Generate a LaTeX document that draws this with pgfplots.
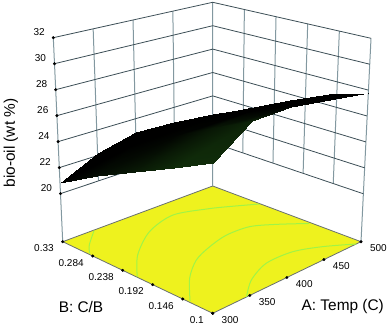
\documentclass[border=0pt]{standalone}
\usepackage{pgfplots}
\pgfplotsset{compat=1.18}
\usepackage{fontspec}
\setmainfont{Liberation Sans}
\definecolor{floorcol}{RGB}{238,242,30}
\definecolor{contcol}{RGB}{160,244,70}
\definecolor{vgrid}{RGB}{130,152,160}
\definecolor{hgrid}{RGB}{60,78,86}
\definecolor{edgecol}{RGB}{105,112,112}
% values live in the tables as (Temp, C/B, bio-oil), px/py place them on the page
\newcommand\PX{px(uu(\thisrow{A}),vv(\thisrow{B}),ww(\thisrow{Z}))}
\newcommand\PY{py(uu(\thisrow{A}),vv(\thisrow{B}),ww(\thisrow{Z}))}
\begin{document}
\begin{tikzpicture}[x=1pt,y=1pt]
\path[use as bounding box] (0,0) rectangle (387,326);
\begin{axis}[
  at={(0,0)}, anchor=south west,
  scale only axis, width=387pt, height=326pt,
  xmin=0, xmax=387, ymin=-326, ymax=0, zmin=-1, zmax=1,
  view={0}{90},
  hide axis, clip=false,
  declare function={
    uu(\a)=(\a-300)/200;
    vv(\b)=(\b-0.1)/0.23;
    ww(\z)=(\z-16.3)/15.7;
    px(\u,\v,\w)=212.7+(148.3+10*\w)*\u+(-150-9.4*\w)*\v+(1.7-0.6*\w)*\u*\v;
    py(\u,\v,\w)=-(313.3-227.3*\w+(-71.6+23.9*\w)*\u+(-71.6+23.3*\w)*\v+(15.9-3.6*\w)*\u*\v);
  },
  colormap={surfmap}{rgb255=(0,0,0); rgb255=(16,44,10)},
  point meta min=0, point meta max=1,
]
% floor
\addplot3[fill=floorcol, draw=edgecol, line width=0.8pt] table[x expr=\PX, y expr=\PY, z expr=0] {
A B Z
300 0.1 16.3
500 0.1 16.3
500 0.33 16.3
300 0.33 16.3
300 0.1 16.3
};
% contours on the floor
\addplot3[contcol, line width=1pt, smooth] table[x expr=\PX, y expr=\PY, z expr=0] {
A B Z
341 0.329 16.3
314.6 0.306 16.3
302 0.291 16.3
};
\addplot3[contcol, line width=1pt, smooth] table[x expr=\PX, y expr=\PY, z expr=0] {
A B Z
300.8 0.2166 16.3
334 0.254 16.3
379 0.2877 16.3
422.6 0.302 16.3
457 0.2877 16.3
475.6 0.2753 16.3
499.4 0.2564 16.3
};
\addplot3[contcol, line width=1pt, smooth] table[x expr=\PX, y expr=\PY, z expr=0] {
A B Z
302 0.137 16.3
335.4 0.1757 16.3
367 0.2017 16.3
396.4 0.215 16.3
426 0.2233 16.3
455 0.2208 16.3
476 0.2035 16.3
498 0.178 16.3
};
\addplot3[contcol, line width=1pt, smooth] table[x expr=\PX, y expr=\PY, z expr=0] {
A B Z
345.6 0.1 16.3
373.5 0.1244 16.3
408.2 0.1412 16.3
442.6 0.14 16.3
469 0.1242 16.3
493.6 0.1 16.3
};
% wall verticals
\addplot3[vgrid, line width=1pt] table[x expr=\PX, y expr=\PY, z expr=0] {
A B Z
300 0.33 16.3
300 0.33 32

350 0.33 20
350 0.33 32

400 0.33 20
400 0.33 32

450 0.33 20
450 0.33 32

500 0.33 16.3
500 0.33 32

500 0.284 20
500 0.284 32

500 0.238 20
500 0.238 32

500 0.192 20
500 0.192 32

500 0.146 20
500 0.146 32

500 0.1 16.3
500 0.1 32
};
% wall horizontals
\addplot3[hgrid, line width=0.8pt] table[x expr=\PX, y expr=\PY, z expr=0] {
A B Z
300 0.33 20
500 0.33 20
500 0.1 20

300 0.33 22
500 0.33 22
500 0.1 22

300 0.33 24
500 0.33 24
500 0.1 24

300 0.33 26
500 0.33 26
500 0.1 26

300 0.33 28
500 0.33 28
500 0.1 28

300 0.33 30
500 0.33 30
500 0.1 30

300 0.33 32
500 0.33 32
500 0.1 32
};
% response surface
\addplot3[surf, shader=interp, mesh/rows=5, mesh/cols=5, point meta=explicit]
  table[x expr=\PX, y expr=\PY, z expr=0, meta=T] {
A B Z T
300 0.1 26.7 1
350 0.1 28.67 0.8
400 0.1 28.73 0.1
450 0.1 28.27 0
500 0.1 27.78 0
300 0.1575 25.35 1
350 0.1575 27.24 0.5
400 0.1575 27.56 0
450 0.1575 27.25 0
500 0.1575 26.88 0
300 0.215 23.98 0.6
350 0.215 25.69 0.1
400 0.215 26.15 0
450 0.215 25.9 0
500 0.215 25.53 0
300 0.2725 22.55 0.3
350 0.2725 24.04 0
400 0.2725 24.6 0
450 0.2725 24.35 0
500 0.2725 23.95 0
300 0.33 20.84 0
350 0.33 22.2 0
400 0.33 22.95 0
450 0.33 22.8 0
500 0.33 22.45 0
};
% tick dots and labels
\addplot3[only marks, mark=*, mark size=1.3pt, black, point meta=explicit symbolic,
  nodes near coords, every node near coord/.append style={anchor=east, xshift=-5pt, yshift=5.7pt, font=\fontsize{10}{12}\selectfont, text=black}]
  table[x expr=\PX, y expr=\PY, z expr=0, meta=L] {
A B Z L
300 0.33 20 20
300 0.33 22 22
300 0.33 24 24
300 0.33 26 26
300 0.33 28 28
300 0.33 30 30
300 0.33 32 32
};
\addplot3[only marks, mark=*, mark size=1.3pt, black, point meta=explicit symbolic,
  nodes near coords, every node near coord/.append style={anchor=east, xshift=-5.5pt, yshift=-6.7pt, font=\fontsize{10}{12}\selectfont, text=black}]
  table[x expr=\PX, y expr=\PY, z expr=0, meta=L] {
A B Z L
300 0.33 16.3 0.33
300 0.284 16.3 0.284
300 0.238 16.3 0.238
300 0.192 16.3 0.192
300 0.146 16.3 0.146
300 0.1 16.3 0.1
};
\addplot3[only marks, mark=*, mark size=1.3pt, black, point meta=explicit symbolic,
  nodes near coords, every node near coord/.append style={anchor=west, xshift=5.5pt, yshift=-6.7pt, font=\fontsize{10}{12}\selectfont, text=black}]
  table[x expr=\PX, y expr=\PY, z expr=0, meta=L] {
A B Z L
300 0.1 16.3 300
350 0.1 16.3 350
400 0.1 16.3 400
450 0.1 16.3 450
500 0.1 16.3 500
};
\node[font=\fontsize{15.4}{18}\selectfont, text=black] at (axis cs:342.7,-306.7,0) {A: Temp (C)};
\node[font=\fontsize{15.4}{18}\selectfont, text=black] at (axis cs:81,-307.3,0) {B: C/B};
\node[font=\fontsize{15.4}{18}\selectfont, text=black, rotate=90] at (axis cs:11,-143,0) {bio-oil (wt \%)};
\end{axis}
\end{tikzpicture}
\end{document}
